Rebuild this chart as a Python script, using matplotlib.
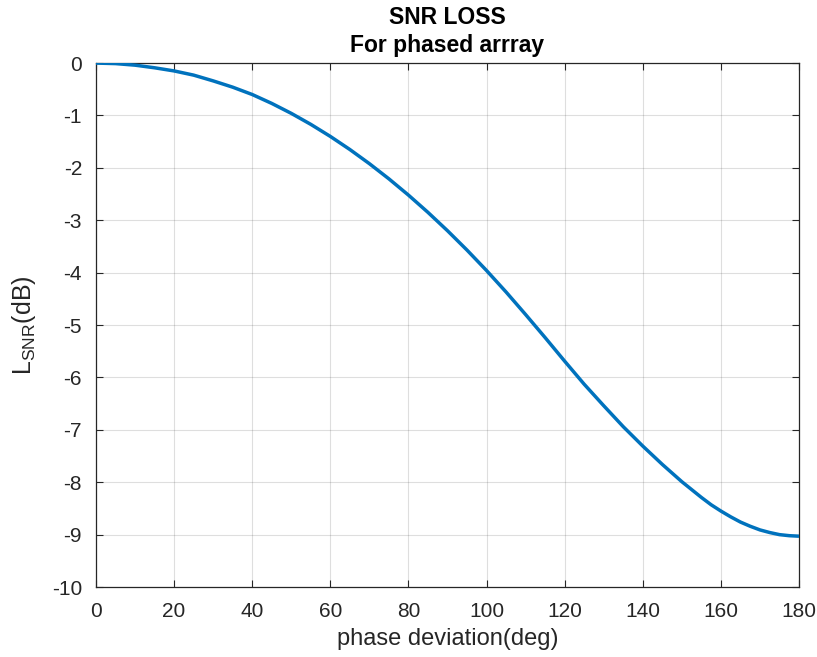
import matplotlib
matplotlib.use("Agg")
import matplotlib.pyplot as plt

# Phase deviation (deg) and the resulting SNR loss (dB)
phase_deg = [0, 5, 10, 15, 20, 25, 30, 35, 40, 45, 50, 55, 60, 65, 70, 75, 80,
             85, 90, 95, 100, 105, 110, 115, 120, 125, 130, 135, 140, 145, 150,
             152.5, 155, 157.5, 160, 162.5, 165, 167.5, 170, 172.5, 175, 177.5,
             180]
loss_db = [0.00, -0.01, -0.04, -0.09, -0.15, -0.23, -0.34, -0.46, -0.60, -0.77,
           -0.96, -1.17, -1.40, -1.65, -1.92, -2.21, -2.52, -2.85, -3.20, -3.57,
           -3.96, -4.37, -4.80, -5.24, -5.69, -6.13, -6.54, -6.94, -7.31, -7.66,
           -7.99, -8.14, -8.29, -8.43, -8.55, -8.66, -8.76, -8.84, -8.91, -8.96,
           -9.00, -9.02, -9.03]

x_ticks = [0, 20, 40, 60, 80, 100, 120, 140, 160, 180]
y_ticks = [0, -1, -2, -3, -4, -5, -6, -7, -8, -9, -10]

plt.rcParams["font.family"] = ["Liberation Sans", "DejaVu Sans"]
plt.rcParams["mathtext.fontset"] = "custom"
plt.rcParams["mathtext.rm"] = "Liberation Sans"
plt.rcParams["mathtext.it"] = "Liberation Sans"
plt.rcParams["mathtext.default"] = "regular"

axis_col = "#262626"

fig = plt.figure(figsize=(8.17, 6.57), dpi=100)
ax = fig.add_axes([0.1175, 0.1065, 0.8605, 0.7975])

ax.plot(phase_deg, loss_db, color="#0072BD", lw=2.5, solid_joinstyle="round",
        solid_capstyle="butt", clip_on=True, zorder=3)

ax.set_xlim(0, 180)
ax.set_ylim(-10, 0)
ax.set_xticks(x_ticks)
ax.set_yticks(y_ticks)
ax.set_xticklabels([str(v) for v in x_ticks])
ax.set_yticklabels([str(v) for v in y_ticks])

ax.grid(True, color="#262626", alpha=0.15, lw=0.8)
ax.set_axisbelow(True)

for s in ax.spines.values():
    s.set_color(axis_col)
    s.set_linewidth(0.9)

ax.tick_params(axis="both", which="major", direction="in", length=5,
               width=0.8, color=axis_col, labelcolor=axis_col,
               labelsize=15, top=True, right=True)
ax.tick_params(axis="x", pad=11)
ax.tick_params(axis="y", pad=10)

ax.set_xlabel("phase deviation(deg)", fontsize=17, color=axis_col, labelpad=5)
ax.set_ylabel(r"$L_{SNR}$(dB)", fontsize=18, color=axis_col, labelpad=10)
ax.set_title("SNR LOSS\nFor phased arrray", fontsize=16.5, fontweight="bold",
             color="black", pad=8, linespacing=1.25)

fig.savefig("out.png", dpi=100, facecolor="white")
